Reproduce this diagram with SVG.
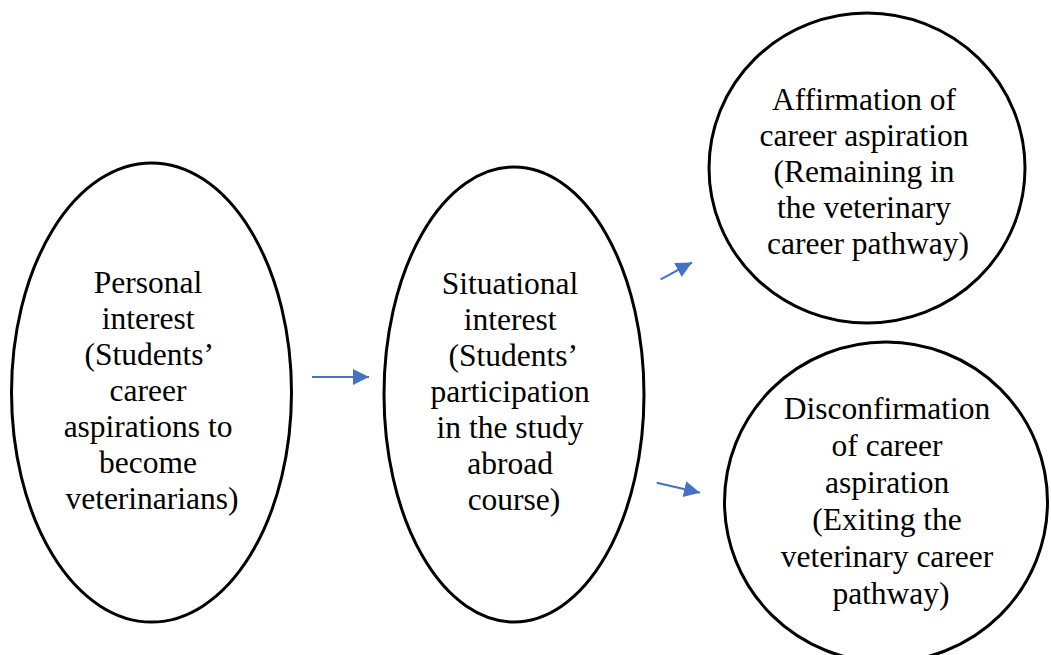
<svg xmlns="http://www.w3.org/2000/svg" width="1051" height="655" viewBox="0 0 1051 655">
<style>
.node{fill:#ffffff;stroke:#000000;stroke-width:3}
.lbl{font-family:"Liberation Serif","Times New Roman",serif;font-size:31.5px;fill:#000000;text-anchor:middle}
.conn{stroke:#4472C4;stroke-width:2;fill:none}
</style>
<defs>
<marker id="ah" markerUnits="userSpaceOnUse" markerWidth="17" markerHeight="17" refX="16" refY="8" orient="auto">
<path d="M0,0 L16,8 L0,16 z" fill="#4472C4"/>
</marker>
</defs>
<rect width="1051" height="655" fill="#ffffff"/>
<g id="personal-interest">
<ellipse class="node" cx="151.5" cy="392.5" rx="140" ry="229.5"/>
<text class="lbl">
<tspan x="152" y="293">Personal</tspan>
<tspan x="152" y="329">interest</tspan>
<tspan x="152" y="365">(Students’</tspan>
<tspan x="152" y="401">career</tspan>
<tspan x="152" y="437">aspirations to</tspan>
<tspan x="152" y="473">become</tspan>
<tspan x="152" y="509">veterinarians)</tspan>
</text>
</g>
<g id="situational-interest">
<ellipse class="node" cx="514" cy="394.5" rx="130" ry="227.5"/>
<text class="lbl">
<tspan x="514" y="294">Situational</tspan>
<tspan x="514" y="330">interest</tspan>
<tspan x="516" y="366">(Students’</tspan>
<tspan x="514" y="402">participation</tspan>
<tspan x="514" y="438">in the study</tspan>
<tspan x="514" y="474">abroad</tspan>
<tspan x="514" y="510">course)</tspan>
</text>
</g>
<g id="affirmation">
<ellipse class="node" cx="867" cy="168" rx="158" ry="155"/>
<text class="lbl">
<tspan x="868" y="110">Affirmation of</tspan>
<tspan x="868" y="146">career aspiration</tspan>
<tspan x="868" y="182">(Remaining in</tspan>
<tspan x="868" y="218">the veterinary</tspan>
<tspan x="868" y="254">career pathway)</tspan>
</text>
</g>
<g id="disconfirmation">
<ellipse class="node" cx="886" cy="502" rx="161.5" ry="160"/>
<text class="lbl">
<tspan x="891" y="419">Disconfirmation</tspan>
<tspan x="891" y="456">of career</tspan>
<tspan x="891" y="493">aspiration</tspan>
<tspan x="891" y="530">(Exiting the</tspan>
<tspan x="891" y="567">veterinary career</tspan>
<tspan x="891" y="604">pathway)</tspan>
</text>
</g>
<g id="connectors">
<line class="conn" x1="312" y1="377" x2="369" y2="377" marker-end="url(#ah)"/>
<line class="conn" x1="660.7" y1="279.3" x2="692" y2="262.5" marker-end="url(#ah)"/>
<line class="conn" x1="656.7" y1="482.7" x2="700" y2="492.7" marker-end="url(#ah)"/>
</g>
</svg>
